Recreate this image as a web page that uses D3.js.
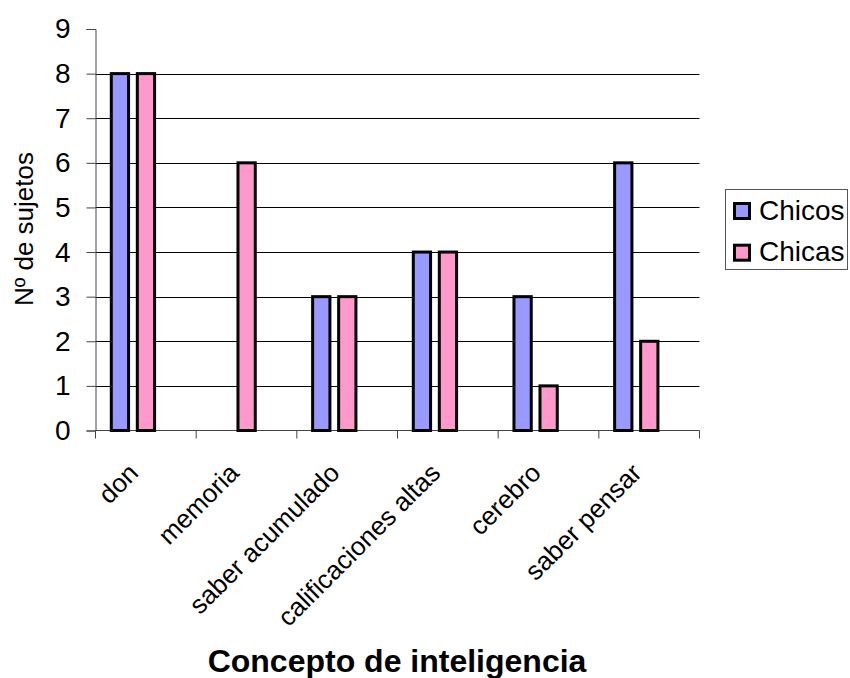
<!DOCTYPE html>
<html>
<head>
<meta charset="utf-8">
<script src="https://cdn.jsdelivr.net/npm/d3@7"></script>
<style>
  html, body { margin: 0; padding: 0; background: #fff; }
  svg { display: block; font-family: Arial, "Liberation Sans", sans-serif; }
</style>
</head>
<body>
<svg id="chart" width="850" height="678"></svg>
<script>
// Concept of intelligence: counts of subjects by group
const categories = ["don", "memoria", "saber acumulado", "calificaciones altas", "cerebro", "saber pensar"];
const seriesNames = ["Chicos", "Chicas"];
const chicos = [8, 0, 3, 4, 3, 6];
const chicas = [8, 6, 3, 4, 1, 2];
const yTicks = [0, 1, 2, 3, 4, 5, 6, 7, 8, 9];
const colors = ["#9999FF", "#FF99CC"];

const svg = d3.select("#chart");
const plotLeft = 95.5, plotRight = 699.5, plotTop = 29, plotBottom = 430.5;

const x0 = d3.scaleBand().domain(categories).range([plotLeft, plotRight]).padding(0);
const bw = x0.bandwidth();
const x1 = d3.scaleBand().domain(seriesNames)
  .range([bw * 0.142, bw * 0.602]).paddingInner(0.22).paddingOuter(0);
const y = d3.scaleLinear().domain([0, 9]).range([plotBottom, plotTop]);

// horizontal gridlines
svg.append("g").selectAll("line")
  .data(yTicks.filter(t => t > 0 && t < 9))
  .join("line")
  .attr("x1", plotLeft).attr("x2", plotRight)
  .attr("y1", d => Math.round(y(d)) + 0.5).attr("y2", d => Math.round(y(d)) + 0.5)
  .attr("stroke", "#000").attr("stroke-width", 1);

// y axis
const yAxis = svg.append("g")
  .attr("transform", `translate(${plotLeft},0)`)
  .call(d3.axisLeft(y).tickValues(yTicks).tickSize(9).tickPadding(16).tickFormat(d3.format("d")));
yAxis.select(".domain").attr("stroke", "#444");
yAxis.selectAll(".tick line").attr("stroke", "#444");
yAxis.selectAll(".tick text").attr("font-size", 28).attr("fill", "#000")
  .attr("font-family", "Arial, 'Liberation Sans', sans-serif");

// x axis
const xAxis = svg.append("g")
  .attr("transform", `translate(0,${plotBottom})`);
xAxis.append("line").attr("x1", plotLeft).attr("x2", plotRight).attr("y1", 0).attr("y2", 0)
  .attr("stroke", "#444");
xAxis.selectAll("line.tk")
  .data(categories.map(c => x0(c)).concat([plotRight]))
  .join("line").attr("class", "tk")
  .attr("x1", d => d).attr("x2", d => d).attr("y1", 0).attr("y2", 8)
  .attr("stroke", "#444");
xAxis.selectAll("text")
  .data(categories)
  .join("text")
  .attr("transform", d => `translate(${x0(d) + bw / 2 - 6},${44}) rotate(-45)`)
  .attr("text-anchor", "end")
  .attr("font-size", 26)
  .attr("fill", "#000")
  .text(d => d);

// bars
const rows = categories.map((c, i) => ({ cat: c, vals: [chicos[i], chicas[i]] }));
const groups = svg.append("g").selectAll("g")
  .data(rows)
  .join("g")
  .attr("transform", d => `translate(${x0(d.cat)},0)`);
groups.selectAll("rect")
  .data(d => d.vals.map((v, j) => ({ name: seriesNames[j], v, j })).filter(e => e.v > 0))
  .join("rect")
  .attr("x", d => x1(d.name) + 1.5)
  .attr("width", x1.bandwidth() - 3)
  .attr("y", d => y(d.v))
  .attr("height", d => y(0) - y(d.v))
  .attr("fill", d => colors[d.j])
  .attr("stroke", "#000")
  .attr("stroke-width", 3);

// axis titles
svg.append("text")
  .attr("transform", "translate(33,229) rotate(-90)")
  .attr("text-anchor", "middle")
  .attr("font-size", 26)
  .text("Nº de sujetos");

svg.append("text")
  .attr("x", 397).attr("y", 672)
  .attr("text-anchor", "middle")
  .attr("font-size", 32)
  .attr("font-weight", "bold")
  .text("Concepto de inteligencia");

// legend
const legend = svg.append("g");
legend.append("rect")
  .attr("x", 725.5).attr("y", 189.5).attr("width", 122).attr("height", 80)
  .attr("fill", "#fff").attr("stroke", "#555").attr("stroke-width", 1);
const items = legend.selectAll("g.item")
  .data(seriesNames)
  .join("g").attr("class", "item")
  .attr("transform", (d, i) => `translate(734.5,${203.5 + i * 41.7})`);
items.append("rect")
  .attr("width", 15).attr("height", 15)
  .attr("fill", (d, i) => colors[i])
  .attr("stroke", "#000").attr("stroke-width", 3);
items.append("text")
  .attr("x", 24.5).attr("y", 16)
  .attr("font-size", 28)
  .text(d => d);
</script>
</body>
</html>
